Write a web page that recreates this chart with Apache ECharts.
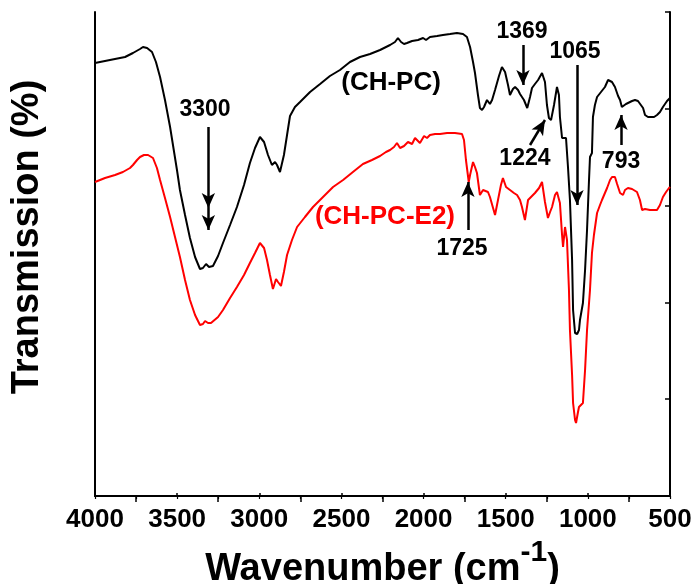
<!DOCTYPE html>
<html>
<head>
<meta charset="utf-8">
<title>FTIR spectra</title>
<script src="https://cdn.jsdelivr.net/npm/echarts@6/dist/echarts.min.js"></script>
<style>
  html, body { margin: 0; padding: 0; background: #fff; }
  #chart { width: 696px; height: 584px; }
</style>
</head>
<body>
<div id="chart"></div>
<script>
// FTIR spectra of CH-PC and CH-PC-E2 (transmission, arbitrary offset)
const wnBlack = [4000,3909,3817,3769,3726,3708,3683,3653,3629,3604,
  3574,3543,3501,3483,3452,3422,3391,3361,3343,3324,
  3306,3282,3251,3221,3178,3136,3093,3057,3026,2996,
  2971,2947,2923,2904,2892,2874,2850,2831,2813,2783,
  2752,2691,2630,2570,2509,2448,2387,2326,2265,2204,
  2174,2156,2137,2119,2101,2070,2034,2003,1985,1961,
  1918,1882,1839,1797,1760,1736,1717,1699,1687,1669,
  1657,1644,1632,1614,1596,1583,1565,1541,1523,1504,
  1486,1474,1456,1443,1425,1413,1401,1389,1369,1352,
  1340,1322,1303,1279,1261,1249,1237,1224,1206,1188,
  1176,1170,1157,1145,1133,1121,1109,1096,1090,1078,
  1065,1054,1048,1036,1030,1017,1005,993,987,975,
  969,957,944,920,896,877,865,853,835,816,
  804,793,768,756,731,713,695,683,664,652,
  634,622,597,579,561,543,518,500];
const trBlack = [86.6,87.2,87.8,88.6,89.4,89.8,89.6,88.8,86.8,83.8,
  79.2,73.8,65.2,61.2,56.2,51.6,47.8,45.4,45.6,46.4,
  45.8,46.0,48.0,50.6,54.2,57.8,62.2,66.6,69.6,71.8,
  70.8,68.2,66.2,66.8,66.2,64.8,68.2,72.2,76.0,77.8,
  78.8,80.8,82.4,84.0,85.2,86.8,87.8,88.4,89.2,90.2,
  90.8,91.6,90.8,90.4,90.6,91.0,91.2,91.6,91.2,91.8,
  92.0,92.2,92.4,92.6,92.4,91.8,89.8,86.8,84.6,80.2,
  77.6,77.2,77.8,79.2,78.4,79.2,81.2,84.0,85.8,84.8,
  82.2,80.2,81.4,81.8,81.2,80.4,80.2,79.2,77.6,79.8,
  81.6,82.4,83.2,84.6,82.8,78.2,75.6,75.2,78.2,81.8,
  80.2,75.8,71.6,71.2,71.6,65.8,59.2,47.2,37.2,32.6,
  32.4,33.2,35.2,35.6,38.6,45.2,53.2,63.2,67.8,68.6,
  75.8,78.2,79.8,80.8,81.8,83.2,83.2,82.8,81.8,80.0,
  79.2,77.8,78.4,78.8,79.0,79.2,79.0,78.6,77.6,76.2,
  75.8,75.6,75.8,76.2,76.8,77.8,79.0,79.6];

const wnRed = [4000,3939,3878,3830,3787,3769,3744,3726,3702,3677,
  3647,3623,3604,3574,3543,3513,3483,3452,3422,3391,
  3361,3343,3330,3312,3294,3282,3251,3221,3178,3136,
  3093,3057,3026,2996,2971,2953,2935,2917,2898,2886,
  2868,2850,2831,2801,2770,2722,2673,2612,2551,2490,
  2430,2369,2314,2265,2229,2204,2180,2162,2143,2119,
  2095,2070,2052,2040,2022,1997,1979,1961,1930,1900,
  1857,1809,1766,1754,1742,1725,1717,1699,1687,1675,
  1657,1638,1626,1608,1596,1577,1565,1547,1529,1517,
  1498,1474,1450,1431,1413,1401,1383,1364,1340,1322,
  1297,1279,1261,1243,1230,1218,1200,1188,1170,1157,
  1151,1139,1127,1115,1109,1096,1090,1078,1072,1060,
  1054,1042,1030,1017,1005,987,975,963,944,926,
  914,896,883,865,853,835,822,804,786,774,
  756,731,701,683,670,652,622,579,561,543,
  524,506,500];
const trRed = [62.8,63.6,64.2,64.8,65.6,66.2,67.2,67.8,68.2,68.2,
  67.6,65.6,63.2,59.6,55.8,51.8,47.8,43.2,39.2,36.2,
  34.2,34.4,35.0,34.6,34.6,34.6,35.8,37.2,39.6,41.8,
  44.2,46.6,48.6,50.6,49.6,47.2,44.2,41.4,43.4,42.8,
  42.0,44.8,48.2,51.2,53.8,55.8,57.8,59.8,61.8,63.2,
  64.8,66.4,67.2,68.0,68.8,69.2,69.8,70.6,69.6,70.0,
  70.8,70.4,71.6,71.2,70.6,72.0,71.6,72.2,72.4,72.4,
  72.6,72.6,72.4,71.2,67.2,62.8,64.2,66.8,65.8,64.6,
  60.2,61.2,61.6,60.8,59.8,57.6,56.2,59.2,62.2,63.6,
  61.8,61.2,60.6,60.2,59.2,57.8,55.2,59.2,60.0,60.6,
  61.6,62.8,58.8,55.6,56.8,57.8,60.2,60.8,58.6,52.2,
  49.8,53.8,51.2,41.2,33.2,24.2,18.6,15.2,14.6,16.8,
  17.8,18.2,18.6,25.2,33.2,41.2,48.6,52.2,56.6,58.2,
  59.2,60.6,61.6,63.2,63.8,63.8,62.4,60.6,60.2,61.2,
  61.6,61.4,60.8,59.2,57.2,57.4,57.2,57.2,58.2,59.8,
  60.8,61.6,61.8];

// band assignments: label text and its anchor [wavenumber, transmission]
const bandLabels = ['3300', '1369', '1065', '1224', '793', '1725'];
const bandLabelAt = [[3330, 77.2], [1401, 92.8], [1078, 88.8], [1383, 67.4], [798, 66.8], [1766, 49.4]];
// arrows: [from, to] in [wavenumber, transmission]
const bandArrows = [
  [[3310, 73.8], [3310, 57.6]],
  [[3310, 57.6], [3310, 53.2]],
  [[1395, 90.2], [1395, 82.2]],
  [[1066, 86.2], [1066, 58.2]],
  [[1352, 70.2], [1261, 75.2]],
  [[798, 70.2], [798, 76.2]],
  [[1730, 53.2], [1730, 62.8]]
];
const seriesNames = ['(CH-PC)', '(CH-PC-E2)'];
const seriesNameAt = [[2198, 82.6], [2235, 55.8]];

const FONT = '"Liberation Sans", Arial, Helvetica, sans-serif';
const X_MIN = 500, X_MAX = 4000, Y_MIN = 0, Y_MAX = 96.8;

const zip = (xs, ys) => xs.map((x, i) => [x, ys[i]]);

const chart = echarts.init(document.getElementById('chart'));

const arrowData = bandArrows.map(([a, b]) => [
  { coord: a, symbol: 'none' },
  { coord: b, symbol: 'arrow', symbolSize: [10, 15] }
]);

const labelPoints = bandLabels.map((t, i) => ({
  coord: bandLabelAt[i],
  label: { formatter: t }
}));

const option = {
  animation: false,
  backgroundColor: '#ffffff',
  grid: [
    { left: 95, top: 12, width: 575, height: 484, containLabel: false, outerBoundsMode: 'none' },
    // offset grid carrying the outward ticks at 3750, 3250, ... 750
    { left: 95 + 575 * 250 / 3500, top: 12, width: 575 * 3000 / 3500, height: 484, outerBoundsMode: 'none' }
  ],
  xAxis: [
    {
      type: 'value', gridIndex: 0, position: 'bottom',
      min: X_MIN, max: X_MAX, interval: 500, inverse: true,
      name: '{a|Wavenumber (cm}{s|-1}{a|)}',
      nameLocation: 'middle', nameGap: 34,
      nameTextStyle: {
        rich: {
          a: { fontSize: 38, fontWeight: 'bold', fontFamily: FONT, color: '#000' },
          s: { fontSize: 30, fontWeight: 'bold', fontFamily: FONT, color: '#000', padding: [0, 0, 34, 0] }
        }
      },
      axisLine: { show: true, lineStyle: { color: '#000', width: 2 } },
      axisTick: { show: true, inside: true, length: 3, lineStyle: { color: '#000', width: 1.5 } },
      axisLabel: {
        show: true, margin: 11, color: '#000', fontSize: 26, fontWeight: 'bold', fontFamily: FONT,
        formatter: (v) => String(v)
      },
      splitLine: { show: false }
    },
    {
      type: 'value', gridIndex: 0, position: 'top',
      min: X_MIN, max: X_MAX, interval: 250, inverse: true,
      axisLine: { show: true, lineStyle: { color: '#000', width: 2 } },
      axisTick: { show: true, inside: true, length: 3, lineStyle: { color: '#000', width: 1.2 } },
      axisLabel: { show: false },
      splitLine: { show: false }
    },
    {
      type: 'value', gridIndex: 1, position: 'bottom',
      min: 750, max: 3750, interval: 500, inverse: true,
      axisLine: { show: false },
      axisTick: { show: true, inside: false, length: 6, lineStyle: { color: '#000', width: 1.5 } },
      axisLabel: { show: false },
      splitLine: { show: false }
    }
  ],
  yAxis: [
    {
      type: 'value', gridIndex: 0, position: 'left',
      min: Y_MIN, max: Y_MAX, interval: Y_MAX / 5,
      name: 'Transmission (%)',
      nameLocation: 'middle', nameGap: 48,
      nameTextStyle: { fontSize: 38, fontWeight: 'bold', fontFamily: FONT, color: '#000', padding: [0, 0, 0, 34] },
      axisLine: { show: true, lineStyle: { color: '#000', width: 2 } },
      axisTick: { show: false },
      axisLabel: { show: false },
      splitLine: { show: false }
    },
    {
      type: 'value', gridIndex: 0, position: 'right',
      min: Y_MIN, max: Y_MAX, interval: Y_MAX / 5,
      axisLine: { show: true, lineStyle: { color: '#000', width: 2 } },
      axisTick: { show: true, inside: true, length: 5, lineStyle: { color: '#000', width: 1.5 } },
      axisLabel: { show: false },
      splitLine: { show: false }
    },
    {
      type: 'value', gridIndex: 1, show: false, min: Y_MIN, max: Y_MAX
    }
  ],
  series: [
    {
      name: 'CH-PC', type: 'line', xAxisIndex: 0, yAxisIndex: 0,
      data: zip(wnBlack, trBlack),
      showSymbol: false, symbol: 'none', smooth: false,
      lineStyle: { color: '#000', width: 2 },
      itemStyle: { color: '#000' },
      markLine: {
        silent: true, animation: false,
        label: { show: false },
        lineStyle: { color: '#000', width: 2.5, type: 'solid' },
        emphasis: { disabled: true },
        data: arrowData
      },
      markPoint: {
        silent: true, animation: false,
        symbol: 'circle', symbolSize: 0,
        itemStyle: { color: 'transparent' },
        label: {
          show: true, position: 'inside', color: '#000',
          fontSize: 23, fontWeight: 'bold', fontFamily: FONT
        },
        data: labelPoints.concat([{
          coord: seriesNameAt[0],
          label: { formatter: seriesNames[0], fontSize: 26, color: '#000' }
        }])
      }
    },
    {
      name: 'CH-PC-E2', type: 'line', xAxisIndex: 0, yAxisIndex: 0,
      data: zip(wnRed, trRed),
      showSymbol: false, symbol: 'none', smooth: false,
      lineStyle: { color: '#ff0000', width: 2 },
      itemStyle: { color: '#ff0000' },
      markPoint: {
        silent: true, animation: false,
        symbol: 'circle', symbolSize: 0,
        itemStyle: { color: 'transparent' },
        label: {
          show: true, position: 'inside', color: '#ff0000',
          fontSize: 26, fontWeight: 'bold', fontFamily: FONT
        },
        data: [{ coord: seriesNameAt[1], label: { formatter: seriesNames[1] } }]
      }
    }
  ]
};

chart.setOption(option);
</script>
</body>
</html>
